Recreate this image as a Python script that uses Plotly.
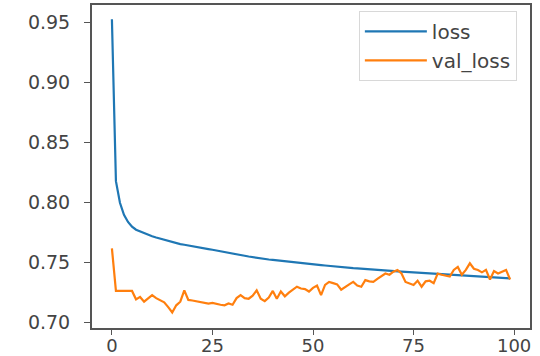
import plotly.graph_objects as go

epochs = list(range(100))

loss = [0.953, 0.818, 0.800, 0.790, 0.784, 0.780, 0.7775, 0.776, 0.7745, 0.7730,
        0.772, 0.771, 0.770, 0.769, 0.768, 0.767, 0.7665, 0.7655, 0.765, 0.7645,
        0.7638, 0.7632, 0.7626, 0.762, 0.7614, 0.7608, 0.7601, 0.7595, 0.7588, 0.7582,
        0.7576, 0.757, 0.7564, 0.7558, 0.7552, 0.7546, 0.754, 0.7535, 0.753, 0.7527,
        0.7524, 0.752, 0.7515, 0.751, 0.7508, 0.7505, 0.750, 0.7497, 0.7493, 0.749,
        0.7487, 0.7483, 0.748, 0.7477, 0.7473, 0.747, 0.7467, 0.7463, 0.746, 0.7458,
        0.7455, 0.7453, 0.745, 0.7447, 0.7445, 0.7442, 0.744, 0.7438, 0.7435, 0.7433,
        0.743, 0.7428, 0.7426, 0.7424, 0.7422, 0.742, 0.7418, 0.7416, 0.7414, 0.7412,
        0.741, 0.7408, 0.7406, 0.7404, 0.7402, 0.740, 0.7398, 0.7396, 0.7393, 0.739,
        0.7388, 0.7386, 0.7384, 0.7382, 0.738, 0.7378, 0.7376, 0.7374, 0.7372, 0.737]

val_loss = [0.762, 0.7265, 0.7265, 0.7265, 0.7265, 0.7265, 0.7195, 0.7215, 0.7175, 0.7200,
            0.7230, 0.7205, 0.7185, 0.7170, 0.7130, 0.7085, 0.7145, 0.7175, 0.7270, 0.7190,
            0.7185, 0.7180, 0.7175, 0.7170, 0.7160, 0.7165, 0.7155, 0.7150, 0.7145, 0.7160,
            0.7150, 0.7205, 0.7230, 0.7205, 0.7200, 0.7225, 0.7270, 0.7200, 0.7180, 0.7210,
            0.7265, 0.7200, 0.7260, 0.7220, 0.7250, 0.7275, 0.7300, 0.7285, 0.7280, 0.7260,
            0.7290, 0.7310, 0.7230, 0.7315, 0.7340, 0.7330, 0.7320, 0.7275, 0.7300, 0.7320,
            0.7340, 0.7310, 0.7300, 0.7355, 0.7345, 0.7340, 0.7365, 0.7385, 0.7410, 0.7400,
            0.7425, 0.7440, 0.7410, 0.7340, 0.7325, 0.7315, 0.7350, 0.7300, 0.7345, 0.7350,
            0.7330, 0.7410, 0.7400, 0.7395, 0.7385, 0.7440, 0.7465, 0.7400, 0.7440, 0.7495,
            0.7450, 0.7440, 0.7420, 0.7440, 0.7360, 0.7430, 0.7410, 0.7425, 0.7440, 0.7360]

x_ticks = [0, 25, 50, 75, 100]
y_ticks = [0.70, 0.75, 0.80, 0.85, 0.90, 0.95]

fig = go.Figure()
fig.add_trace(go.Scatter(x=epochs, y=loss, mode="lines", name="loss",
                         line=dict(color="#1f77b4", width=2.2)))
fig.add_trace(go.Scatter(x=epochs, y=val_loss, mode="lines", name="val_loss",
                         line=dict(color="#ff7f0e", width=2.2)))

y_font = dict(family="DejaVu Sans", size=19, color="#444444")
x_font = dict(family="DejaVu Sans", size=18, color="#444444")
fig.update_layout(
    width=540, height=356,
    margin=dict(l=92, r=10, t=5, b=28),
    paper_bgcolor="white", plot_bgcolor="white",
    showlegend=True,
    legend=dict(x=0.97, y=0.982, xanchor="right", yanchor="top",
                bgcolor="rgba(255,255,255,0.8)", bordercolor="#d8d8d8", borderwidth=1,
                font=dict(family="DejaVu Sans", size=20, color="#444444"),
                itemwidth=62, tracegroupgap=0),
    xaxis=dict(range=[-4.95, 103.95], tickvals=x_ticks, ticktext=[str(v) for v in x_ticks],
               showgrid=False, zeroline=False, showline=True, mirror=True,
               linecolor="#555555", linewidth=2, ticks="outside", ticklen=5,
               tickcolor="#555555", tickfont=x_font, ticklabelstandoff=-5,
               automargin=False),
    yaxis=dict(range=[0.6956, 0.9648], tickvals=y_ticks,
               ticktext=["%.2f" % v for v in y_ticks],
               showgrid=False, zeroline=False, showline=True, mirror=True,
               linecolor="#555555", linewidth=2, ticks="outside", ticklen=6,
               tickcolor="#555555", tickfont=y_font, ticklabelstandoff=10,
               automargin=False),
)

fig.write_html("out.html")
